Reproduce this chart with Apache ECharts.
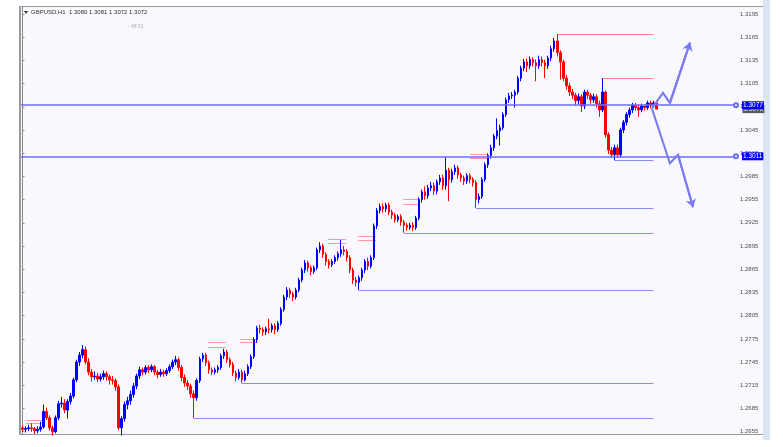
<!DOCTYPE html>
<html><head><meta charset="utf-8">
<script src="https://cdn.jsdelivr.net/npm/echarts@6/dist/echarts.min.js"></script>
<style>html,body{margin:0;padding:0;background:#fff}#c{width:783px;height:447px}</style>
</head><body><div id="c"></div>
<script>
const opens=[
1.2660,1.2658,1.2659,1.2660,1.2659,1.2656,1.2658,1.2661,1.2681,1.2673,
1.2660,1.2655,1.2673,1.2691,1.2692,1.2683,1.2694,1.2701,1.2722,1.2745,
1.2754,1.2761,1.2745,1.2732,1.2726,1.2727,1.2723,1.2726,1.2730,1.2726,
1.2722,1.2721,1.2713,1.2660,1.2672,1.2690,1.2695,1.2703,1.2714,1.2727,
1.2735,1.2732,1.2738,1.2735,1.2739,1.2732,1.2729,1.2732,1.2730,1.2734,
1.2739,1.2745,1.2748,1.2738,1.2725,1.2718,1.2714,1.2704,1.2699,1.2721,
1.2749,1.2754,1.2744,1.2735,1.2732,1.2735,1.2738,1.2753,1.2758,1.2748,
1.2742,1.2731,1.2725,1.2732,1.2722,1.2730,1.2739,1.2752,1.2774,1.2789,
1.2787,1.2784,1.2788,1.2787,1.2792,1.2787,1.2795,1.2813,1.2829,1.2838,
1.2833,1.2829,1.2838,1.2851,1.2864,1.2873,1.2867,1.2862,1.2867,1.2890,
1.2895,1.2884,1.2875,1.2871,1.2875,1.2880,1.2885,1.2890,1.2888,1.2880,
1.2864,1.2851,1.2848,1.2854,1.2864,1.2875,1.2869,1.2880,1.2921,1.2941,
1.2946,1.2943,1.2948,1.2939,1.2935,1.2929,1.2933,1.2926,1.2922,1.2919,
1.2922,1.2919,1.2931,1.2955,1.2965,1.2960,1.2970,1.2973,1.2966,1.2978,
1.2983,1.2973,1.2993,1.2981,1.2991,1.2996,1.2987,1.2983,1.2979,1.2986,
1.2981,1.2977,1.2955,1.2959,1.2981,1.3000,1.3012,1.3022,1.3037,1.3044,
1.3048,1.3065,1.3084,1.3089,1.3090,1.3094,1.3112,1.3125,1.3133,1.3128,
1.3136,1.3132,1.3128,1.3136,1.3132,1.3128,1.3138,1.3150,1.3160,1.3145,
1.3133,1.3112,1.3102,1.3094,1.3090,1.3083,1.3088,1.3076,1.3094,1.3090,
1.3084,1.3088,1.3079,1.3071,1.3094,1.3039,1.3019,1.3013,1.3022,1.3013,
1.3045,1.3055,1.3065,1.3071,1.3077,1.3074,1.3071,1.3076,1.3074,1.3080,
1.3077,1.3080];
const closes=[
1.2658,1.2659,1.2660,1.2659,1.2656,1.2658,1.2661,1.2681,1.2673,1.2660,
1.2655,1.2673,1.2691,1.2692,1.2683,1.2694,1.2701,1.2722,1.2745,1.2754,
1.2761,1.2745,1.2732,1.2726,1.2727,1.2723,1.2726,1.2730,1.2726,1.2722,
1.2721,1.2713,1.2660,1.2672,1.2690,1.2695,1.2703,1.2714,1.2727,1.2735,
1.2732,1.2738,1.2735,1.2739,1.2732,1.2729,1.2732,1.2730,1.2734,1.2739,
1.2745,1.2748,1.2738,1.2725,1.2718,1.2714,1.2704,1.2699,1.2721,1.2749,
1.2754,1.2744,1.2735,1.2732,1.2735,1.2738,1.2753,1.2758,1.2748,1.2742,
1.2731,1.2725,1.2732,1.2722,1.2730,1.2739,1.2752,1.2774,1.2789,1.2787,
1.2784,1.2788,1.2787,1.2792,1.2787,1.2795,1.2813,1.2829,1.2838,1.2833,
1.2829,1.2838,1.2851,1.2864,1.2873,1.2867,1.2862,1.2867,1.2890,1.2895,
1.2884,1.2875,1.2871,1.2875,1.2880,1.2885,1.2890,1.2888,1.2880,1.2864,
1.2851,1.2848,1.2854,1.2864,1.2875,1.2869,1.2880,1.2921,1.2941,1.2946,
1.2943,1.2948,1.2939,1.2935,1.2929,1.2933,1.2926,1.2922,1.2919,1.2922,
1.2919,1.2931,1.2955,1.2965,1.2960,1.2970,1.2973,1.2966,1.2978,1.2983,
1.2973,1.2993,1.2981,1.2991,1.2996,1.2987,1.2983,1.2979,1.2986,1.2981,
1.2977,1.2955,1.2959,1.2981,1.3000,1.3012,1.3022,1.3037,1.3044,1.3048,
1.3065,1.3084,1.3089,1.3090,1.3094,1.3112,1.3125,1.3133,1.3128,1.3136,
1.3132,1.3128,1.3136,1.3132,1.3128,1.3138,1.3150,1.3160,1.3145,1.3133,
1.3112,1.3102,1.3094,1.3090,1.3083,1.3088,1.3076,1.3094,1.3090,1.3084,
1.3088,1.3079,1.3071,1.3094,1.3039,1.3019,1.3013,1.3022,1.3013,1.3045,
1.3055,1.3065,1.3071,1.3077,1.3074,1.3071,1.3076,1.3074,1.3080,1.3077,
1.3080,1.3072];
const lows=[
1.2655,1.2654,1.2656,1.2655,1.2652,1.2653,1.2655,1.2659,1.2670,1.2656,
1.2650,1.2653,1.2670,1.2686,1.2679,1.2672,1.2690,1.2698,1.2719,1.2740,
1.2750,1.2742,1.2728,1.2720,1.2722,1.2719,1.2720,1.2722,1.2721,1.2716,
1.2716,1.2708,1.2657,1.2650,1.2668,1.2684,1.2690,1.2699,1.2710,1.2723,
1.2728,1.2729,1.2731,1.2732,1.2728,1.2724,1.2726,1.2726,1.2727,1.2731,
1.2736,1.2741,1.2734,1.2720,1.2713,1.2709,1.2699,1.2673,1.2695,1.2718,
1.2745,1.2740,1.2730,1.2728,1.2729,1.2731,1.2735,1.2749,1.2744,1.2738,
1.2727,1.2720,1.2722,1.2718,1.2720,1.2727,1.2736,1.2749,1.2770,1.2782,
1.2779,1.2780,1.2782,1.2783,1.2781,1.2784,1.2792,1.2810,1.2825,1.2828,
1.2824,1.2826,1.2835,1.2848,1.2860,1.2862,1.2857,1.2859,1.2864,1.2886,
1.2880,1.2870,1.2866,1.2868,1.2872,1.2876,1.2881,1.2883,1.2875,1.2860,
1.2846,1.2843,1.2838,1.2850,1.2860,1.2864,1.2866,1.2877,1.2917,1.2937,
1.2938,1.2939,1.2935,1.2930,1.2925,1.2926,1.2921,1.2912,1.2915,1.2916,
1.2914,1.2916,1.2928,1.2951,1.2955,1.2956,1.2966,1.2961,1.2962,1.2974,
1.2968,1.2968,1.2953,1.2977,1.2987,1.2982,1.2978,1.2974,1.2975,1.2976,
1.2972,1.2944,1.2950,1.2956,1.2978,1.2996,1.3008,1.3018,1.3033,1.3025,
1.3045,1.3062,1.3080,1.3085,1.3074,1.3091,1.3108,1.3121,1.3120,1.3124,
1.3127,1.3108,1.3124,1.3127,1.3112,1.3124,1.3134,1.3146,1.3140,1.3110,
1.3108,1.3097,1.3089,1.3085,1.3076,1.3078,1.3068,1.3072,1.3085,1.3079,
1.3080,1.3074,1.3062,1.3068,1.3035,1.3014,1.3009,1.3006,1.3009,1.3010,
1.3041,1.3051,1.3061,1.3067,1.3070,1.3062,1.3068,1.3070,1.3071,1.3073,
1.3074,1.3072];
const highs=[
1.2663,1.2662,1.2664,1.2666,1.2661,1.2662,1.2668,1.2690,1.2686,1.2676,
1.2663,1.2676,1.2695,1.2700,1.2697,1.2697,1.2705,1.2725,1.2748,1.2758,
1.2767,1.2765,1.2750,1.2736,1.2733,1.2731,1.2730,1.2734,1.2733,1.2729,
1.2727,1.2724,1.2716,1.2675,1.2694,1.2700,1.2708,1.2718,1.2730,1.2739,
1.2738,1.2741,1.2741,1.2742,1.2741,1.2735,1.2736,1.2735,1.2737,1.2742,
1.2748,1.2753,1.2751,1.2741,1.2729,1.2722,1.2717,1.2708,1.2724,1.2752,
1.2757,1.2757,1.2747,1.2738,1.2738,1.2741,1.2756,1.2762,1.2761,1.2751,
1.2745,1.2734,1.2736,1.2735,1.2734,1.2742,1.2755,1.2777,1.2792,1.2793,
1.2790,1.2791,1.2801,1.2795,1.2795,1.2798,1.2816,1.2832,1.2842,1.2841,
1.2836,1.2841,1.2854,1.2867,1.2877,1.2876,1.2870,1.2870,1.2893,1.2900,
1.2898,1.2887,1.2878,1.2878,1.2883,1.2888,1.2903,1.2895,1.2891,1.2883,
1.2867,1.2855,1.2857,1.2867,1.2878,1.2880,1.2883,1.2924,1.2944,1.2950,
1.2950,1.2951,1.2951,1.2942,1.2938,1.2936,1.2936,1.2929,1.2925,1.2925,
1.2926,1.2934,1.2958,1.2968,1.2972,1.2974,1.2978,1.2977,1.2981,1.2987,
1.2987,1.3010,1.2996,1.2995,1.3000,1.2999,1.2990,1.2986,1.2989,1.2989,
1.2984,1.2980,1.2963,1.2984,1.3003,1.3015,1.3026,1.3040,1.3060,1.3052,
1.3068,1.3087,1.3093,1.3094,1.3097,1.3115,1.3128,1.3137,1.3137,1.3140,
1.3139,1.3136,1.3141,1.3140,1.3136,1.3141,1.3154,1.3164,1.3169,1.3148,
1.3136,1.3116,1.3106,1.3098,1.3093,1.3092,1.3091,1.3097,1.3097,1.3093,
1.3092,1.3091,1.3083,1.3112,1.3096,1.3042,1.3023,1.3026,1.3026,1.3048,
1.3058,1.3068,1.3074,1.3080,1.3080,1.3078,1.3079,1.3078,1.3083,1.3083,
1.3083,1.3081];
const yTicks=[1.2655,1.2685,1.2715,1.2745,1.2775,1.2805,1.2835,1.2865,1.2895,1.2925,
1.2955,1.2985,1.3015,1.3045,1.3075,1.3105,1.3135,1.3165,1.3195];
const slotCount=238;
const hLevels=[1.3077,1.3011];
const currentPrice=1.3072;
const supportLines=[[57,1.2673],[73,1.2718],[112,1.2838],[127,1.2912],[151,1.2944],[197,1.3006]];
const resistanceLines=[[178,1.3169],[193,1.3112]];
const lineEndIndex=210;
const orderMarks=[[1.2,6.8,1.2670],[1.2,6.8,1.2666],[61.7,67.7,1.2770],[61.7,67.7,1.2764],
[72.4,78.4,1.2775],[72.4,78.4,1.2770],[101.7,107.7,1.2904],[101.7,107.7,1.2899],
[111.7,117.7,1.2907],[111.7,117.7,1.2902],[126.7,132.3,1.2955],[126.7,132.3,1.2949],
[149,155,1.3014],[149,155,1.3009]];
const upPath=[[209.5,1.3073],[213.2,1.3093],[215.5,1.3080],[222.2,1.3158]];
const downPath=[[209.5,1.3073],[215.5,1.3002],[218.2,1.3013],[223.2,1.2945]];
const headerText='GBPUSD,H1  1.3080 1.3081 1.3072 1.3072';
const timerText='- 48:51';

const cats=[];for(let i=0;i<slotCount;i++)cats.push(String(i));
const candles=opens.map((o,i)=>[o,closes[i],lows[i],highs[i]]);
const chart=echarts.init(document.getElementById('c'),null,{renderer:'canvas'});
const FONT='Liberation Sans';
const seg=(arr,end)=>arr.map(a=>({coords:[[a[0],a[1]],[end,a[1]]]}));
const xMin=-0.5,xMax=slotCount-0.5;
const linesBase={type:'lines',coordinateSystem:'cartesian2d',xAxisIndex:1,yAxisIndex:0,silent:true};
const priceTag=(v,withCircle,bg,fg,z)=>({type:'scatter',xAxisIndex:1,yAxisIndex:0,silent:true,z:z,clip:false,
  data:[[xMax,v]],symbol:'emptyCircle',symbolSize:withCircle?4:1,
  itemStyle:{color:'#6C6CFF',borderColor:'#6C6CFF',borderWidth:1,opacity:withCircle?1:0},
  label:{show:true,position:'right',distance:withCircle?3:5,formatter:v.toFixed(4),backgroundColor:bg,color:fg,
    fontSize:6.5,fontFamily:FONT,padding:[1,1,0,1],opacity:1}});
chart.setOption({
  animation:false,
  backgroundColor:'#ffffff',
  grid:{left:21,right:47,top:7,bottom:12,containLabel:false},
  xAxis:[
    {type:'category',data:cats,show:false,boundaryGap:true},
    {type:'value',min:xMin,max:xMax,show:false}
  ],
  yAxis:{type:'value',position:'right',min:1.26507,max:1.3204,scale:true,
    axisLine:{show:true,lineStyle:{color:'#8a8a8a',width:1}},
    axisTick:{show:true,length:2,customValues:yTicks,lineStyle:{color:'#8a8a8a'}},
    axisLabel:{customValues:yTicks,formatter:v=>v.toFixed(4),fontSize:6,fontFamily:FONT,color:'#505050',margin:4},
    splitLine:{show:false}},
  graphic:[
    {type:'rect',z:-10,shape:{x:20.5,y:6.5,width:743,height:428},style:{fill:'#F8F8FE',stroke:'#9a9a9a',lineWidth:1}},
    {type:'rect',z:-9,shape:{x:763,y:0,width:7,height:440},style:{fill:'#DCE5F3'}},
    {type:'line',z:-8,shape:{x1:19.5,y1:6,x2:19.5,y2:435},style:{stroke:'#9a9a9a',lineWidth:1}},
    {type:'polygon',z:5,shape:{points:[[24,11],[28,11],[26,14]]},style:{fill:'#333'}},
    {type:'text',z:5,style:{x:31,y:9,text:headerText,fontSize:6,fontFamily:FONT,fill:'#333'}},
    {type:'text',z:5,style:{x:128,y:24,text:timerText,fontSize:5,fontFamily:FONT,fill:'#b0b0b0'}}
  ],
  series:[
    {type:'candlestick',xAxisIndex:0,data:candles,barWidth:2,z:3,
      itemStyle:{color:'#0000FF',color0:'#FF0000',borderColor:'#0000FF',borderColor0:'#FF0000',borderWidth:1}},
    Object.assign({},linesBase,{z:4,lineStyle:{color:'#6C6CFF',width:1.6,opacity:1},
      data:hLevels.map(v=>({coords:[[xMin,v],[xMax,v]]}))}),
    Object.assign({},linesBase,{lineStyle:{color:'#8C8CFF',width:1,opacity:1},data:seg(supportLines,lineEndIndex)}),
    Object.assign({},linesBase,{lineStyle:{color:'#FF8080',width:1,opacity:1},data:seg(resistanceLines,lineEndIndex)}),
    Object.assign({},linesBase,{lineStyle:{color:'#FF9A9A',width:1,opacity:1},
      data:orderMarks.map(m=>({coords:[[m[0],m[2]],[m[1],m[2]]]}))}),
    Object.assign({},linesBase,{z:5,polyline:true,lineStyle:{color:'#7A7AF2',width:2,opacity:1},
      data:[{coords:upPath},{coords:downPath}]}),
    Object.assign({},linesBase,{z:5,symbol:['none','arrow'],symbolSize:8,lineStyle:{color:'#7A7AF2',width:2,opacity:1},
      data:[{coords:upPath.slice(-2)},{coords:downPath.slice(-2)}]}),
    priceTag(currentPrice,false,'#5a5a5a','#e0e0e0',6),
    priceTag(hLevels[0],true,'#0000FF','#ffffff',7),
    priceTag(hLevels[1],true,'#0000FF','#ffffff',7)
  ]
});
</script></body></html>
